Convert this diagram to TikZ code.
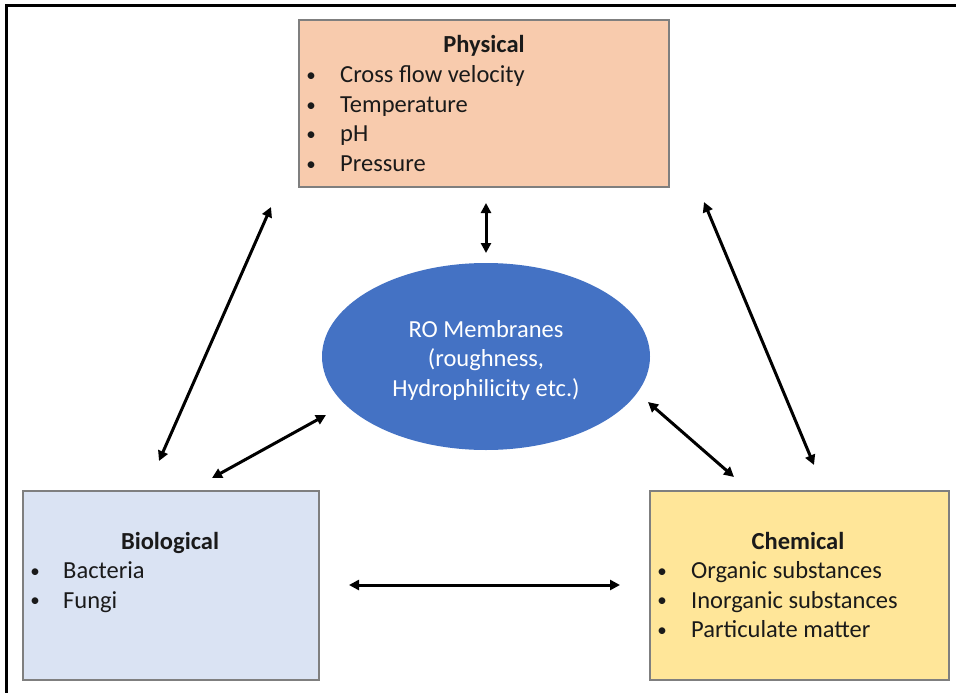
\documentclass[tikz,border=0pt]{standalone}
\usepackage{fontspec}
\setmainfont{Carlito}
\usetikzlibrary{arrows.meta,shapes.geometric}
\definecolor{peach}{HTML}{F8CBAD}
\definecolor{lblue}{HTML}{DAE3F3}
\definecolor{lyellow}{HTML}{FFE699}
\definecolor{mblue}{HTML}{4472C4}
\definecolor{edgegray}{HTML}{7F7F7F}
\definecolor{txt}{HTML}{1A1A1A}
\begin{document}
\begin{tikzpicture}[x=1pt,y=-1pt,
  box/.style={draw=edgegray,line width=1.2pt,rectangle,inner sep=0pt},
  lbl/.style={inner sep=0pt,anchor=base west,text=txt,font=\fontsize{24.5}{29}\selectfont},
  ttl/.style={inner sep=0pt,anchor=base,text=txt,font=\fontsize{24.5}{29}\selectfont\bfseries},
  bul/.style={inner sep=0pt,anchor=base,text=txt,font=\fontsize{19}{22}\selectfont},
  wl/.style={inner sep=0pt,anchor=base,text=white,font=\fontsize{24.5}{29}\selectfont},
  link/.style={line width=3pt,{Triangle[length=10pt,width=10pt]}-{Triangle[length=10pt,width=10pt]}}]
\useasboundingbox (0,0) rectangle (956,693);
\fill[white] (0,0) rectangle (956,693);
\draw[line width=3pt] (6,693) -- (6,5.3) -- (956,5.3);

% boxes
\node[box,fill=peach,minimum width=370pt,minimum height=167pt] (phys) at (484,103.5) {};
\node[box,fill=lblue,minimum width=296pt,minimum height=189pt] (bio) at (171,585.5) {};
\node[box,fill=lyellow,minimum width=299pt,minimum height=189pt] (chem) at (799.5,585.5) {};
\node[ellipse,fill=mblue,minimum width=328pt,minimum height=187pt,inner sep=0pt] (memb) at (486,356.5) {};

% Physical text
\node[ttl] (physT) at (484,52.7) {Physical};
\node[bul] (pb1) at (311,81.5) {•};
\node[lbl] (p1) at (340,82.7) {Cross flow velocity};
\node[bul] (pb2) at (311,111) {•};
\node[lbl] (p2) at (340,112.2) {Temperature};
\node[bul] (pb3) at (311,140.5) {•};
\node[lbl] (p3) at (340,141.7) {pH};
\node[bul] (pb4) at (311,170) {•};
\node[lbl] (p4) at (340,171.2) {Pressure};

% Biological text
\node[ttl] (bioT) at (170,549) {Biological};
\node[bul] (bb1) at (35,577.3) {•};
\node[lbl] (b1) at (63,578.5) {Bacteria};
\node[bul] (bb2) at (35,606.8) {•};
\node[lbl] (b2) at (63,608) {Fungi};

% Chemical text
\node[ttl] (chemT) at (798,549) {Chemical};
\node[bul] (cb1) at (662,577.3) {•};
\node[lbl] (c1) at (691,578.5) {Organic substances};
\node[bul] (cb2) at (662,606.8) {•};
\node[lbl] (c2) at (691,608) {Inorganic substances};
\node[bul] (cb3) at (662,636.3) {•};
\node[lbl] (c3) at (691,637.5) {Particulate matter};

% Membrane text
\node[wl] (m1) at (486,337) {RO Membranes};
\node[wl] (m2) at (486,366.5) {(roughness,};
\node[wl] (m3) at (486,396) {Hydrophilicity etc.)};

% arrow ends
\coordinate (a1) at (486,203);
\coordinate (a2) at (486,253);
\coordinate (b1s) at (271,207);
\coordinate (b1e) at (159,461);
\coordinate (c1s) at (704,202);
\coordinate (c1e) at (814,465);
\coordinate (d1s) at (212,478);
\coordinate (d1e) at (326,415);
\coordinate (e1s) at (648,402);
\coordinate (e1e) at (734,477);
\coordinate (f1s) at (349,585);
\coordinate (f1e) at (620,585);

\draw[link] (a1) -- (a2);
\draw[link] (b1s) -- (b1e);
\draw[link] (c1s) -- (c1e);
\draw[link] (d1s) -- (d1e);
\draw[link] (e1s) -- (e1e);
\draw[link] (f1s) -- (f1e);
\end{tikzpicture}
\end{document}
